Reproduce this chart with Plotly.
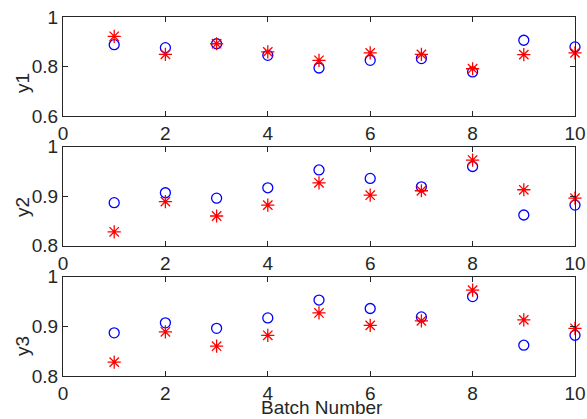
import plotly.graph_objects as go

batch = [1, 2, 3, 4, 5, 6, 7, 8, 9, 10]
y1_circle = [0.888, 0.876, 0.892, 0.845, 0.794, 0.825, 0.832, 0.778, 0.906, 0.879]
y1_star = [0.922, 0.849, 0.892, 0.859, 0.825, 0.855, 0.849, 0.791, 0.848, 0.855]
y2_circle = [0.887, 0.907, 0.896, 0.917, 0.953, 0.936, 0.919, 0.960, 0.862, 0.882]
y2_star = [0.828, 0.889, 0.860, 0.882, 0.927, 0.902, 0.911, 0.973, 0.913, 0.896]
y3_circle = [0.887, 0.907, 0.896, 0.917, 0.953, 0.936, 0.919, 0.960, 0.862, 0.882]
y3_star = [0.828, 0.889, 0.860, 0.882, 0.927, 0.902, 0.911, 0.973, 0.913, 0.896]
x_ticks = [0, 2, 4, 6, 8, 10]
y1_ticks = [0.6, 0.8, 1.0]
y1_ticklabels = ["0.6", "0.8", "1"]
y23_ticks = [0.8, 0.9, 1.0]
y23_ticklabels = ["0.8", "0.9", "1"]
y_titles = ["y1", "y2", "y3"]
x_title = "Batch Number"

H = 419
W = 587
mt, mb, ml, mr = 17, 43, 63, 12
ph = H - mt - mb
pw = W - ml - mr

def dom(top_px, bot_px):
    return [(H - mb - bot_px) / ph, (H - mb - top_px) / ph]

doms = [dom(17, 116), dom(146.7, 245.7), dom(276.7, 376)]
title_y_px = [83, 207, 346]

fig = go.Figure()
font = dict(family="Liberation Sans, Arial, sans-serif", size=19, color="#262626")

series = [(y1_circle, y1_star), (y2_circle, y2_star), (y3_circle, y3_star)]
for i, (c, s) in enumerate(series):
    xa = "x" if i == 0 else f"x{i+1}"
    ya = "y" if i == 0 else f"y{i+1}"
    fig.add_trace(go.Scatter(x=batch, y=c, mode="markers", xaxis=xa, yaxis=ya,
                             marker=dict(symbol="circle-open", size=10, color="#0000ff",
                                         line=dict(width=1.3, color="#0000ff")),
                             showlegend=False, cliponaxis=False))
    fig.add_trace(go.Scatter(x=batch, y=s, mode="markers", xaxis=xa, yaxis=ya,
                             marker=dict(symbol="asterisk-open", size=11, color="#ff0000",
                                         line=dict(width=1.3, color="#ff0000")),
                             showlegend=False, cliponaxis=False))

axis_common = dict(showline=True, linecolor="#262626", linewidth=1, mirror="ticks",
                   ticks="inside", ticklen=5, tickcolor="#262626", showgrid=False,
                   zeroline=False, tickfont=font, automargin=False)

layout = dict(width=W, height=H, autosize=False,
              margin=dict(l=ml, r=mr, t=mt, b=mb, pad=0, autoexpand=False),
              paper_bgcolor="white", plot_bgcolor="white", showlegend=False)
for i in range(3):
    xk = "xaxis" if i == 0 else f"xaxis{i+1}"
    yk = "yaxis" if i == 0 else f"yaxis{i+1}"
    ya = "y" if i == 0 else f"y{i+1}"
    xa = "x" if i == 0 else f"x{i+1}"
    layout[xk] = dict(axis_common, domain=[0, 1], range=[0, 10], tickvals=x_ticks,
                      anchor=ya)
    if i == 0:
        layout[yk] = dict(axis_common, domain=doms[i], range=[0.6, 1.0],
                          tickvals=y1_ticks, ticktext=y1_ticklabels, anchor=xa)
    else:
        layout[yk] = dict(axis_common, domain=doms[i], range=[0.8, 1.0],
                          tickvals=y23_ticks, ticktext=y23_ticklabels, anchor=xa)

fig.update_layout(**layout)

annotations = []
for i in range(3):
    annotations.append(dict(text=y_titles[i], xref="paper", yref="paper",
                            x=(22 - ml) / pw, y=(H - mb - title_y_px[i]) / ph,
                            textangle=-90, showarrow=False, font=font,
                            xanchor="center", yanchor="middle"))
annotations.append(dict(text=x_title, xref="paper", yref="paper",
                        x=(322 - ml) / pw, y=-(407 - (H - mb)) / ph,
                        showarrow=False, font=font, xanchor="center", yanchor="middle"))
fig.update_layout(annotations=annotations)

post = ("document.documentElement.style.margin='0';document.documentElement.style.overflow='hidden';"
        "document.body.style.margin='0';document.body.style.padding='0';document.body.style.overflow='hidden';")
fig.write_html("out.html", post_script=post, default_width="587px", default_height="419px",
               config={"displayModeBar": False, "responsive": False})
